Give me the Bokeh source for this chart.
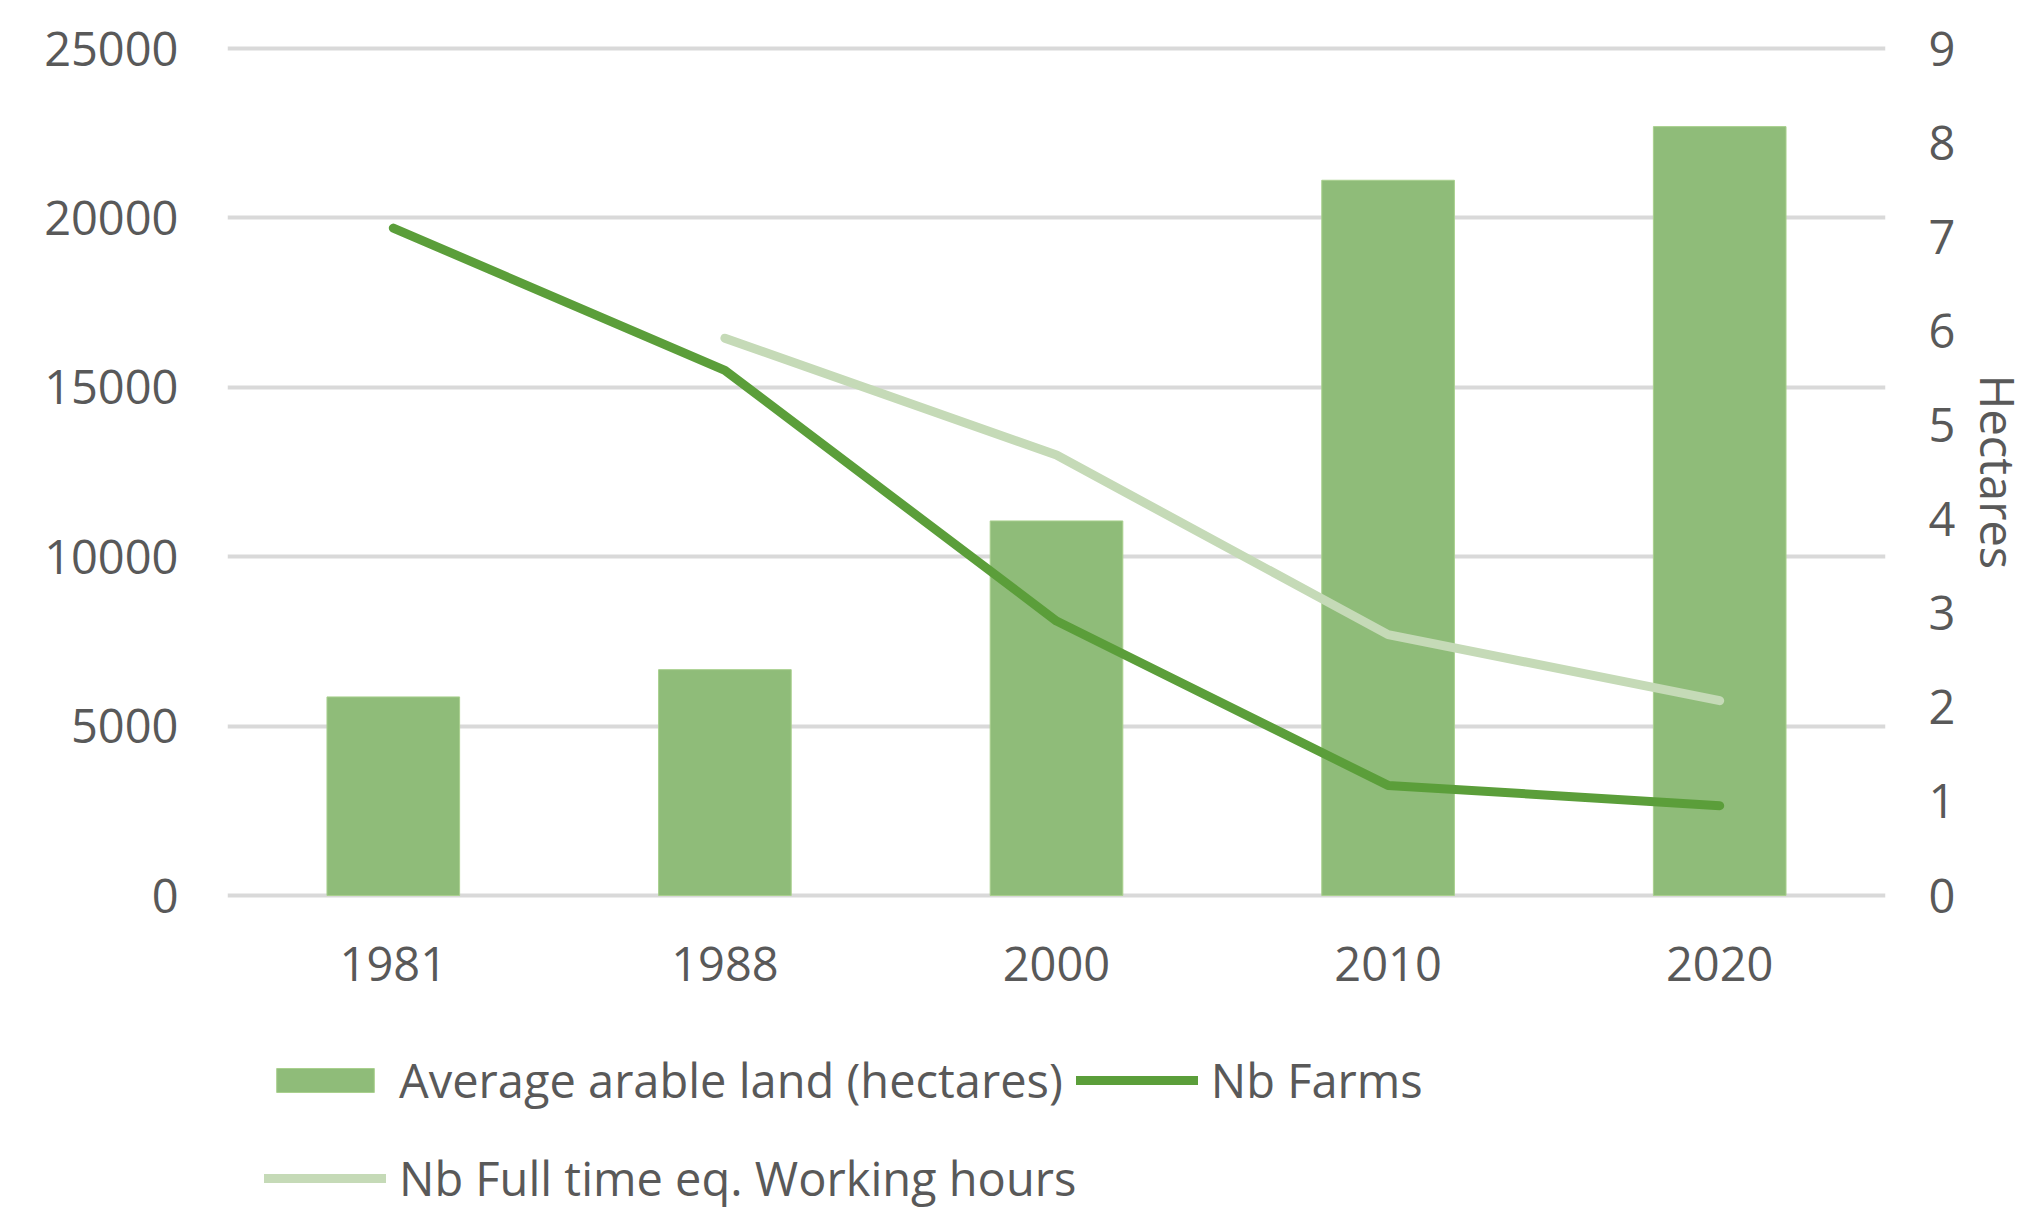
from bokeh.plotting import figure
from bokeh.layouts import column
from bokeh.models import (Range1d, LinearAxis, FactorRange, Legend, LegendItem,
                          FixedTicker, ColumnDataSource)
from bokeh.embed import file_html
from bokeh.resources import INLINE

years = ["1981", "1988", "2000", "2010", "2020"]
arable_land_ha = [2.11, 2.40, 3.98, 7.60, 8.17]
nb_farms = [19700, 15500, 8100, 3250, 2650]
nb_fte = [float("nan"), 16450, 13000, 7700, 5750]
left_ticks = [0, 5000, 10000, 15000, 20000, 25000]
right_ticks = [0, 1, 2, 3, 4, 5, 6, 7, 8, 9]
labels = ["Average arable land (hectares)", "Nb Farms", "Nb Full time eq. Working hours"]

src = ColumnDataSource(dict(year=years, arable=arable_land_ha, farms=nb_farms, fte=nb_fte))

FONT = "Open Sans"
TXT = "#595959"
FS = "47px"
BAR_FILL, BAR_LINE = "#8fbc79", "#a9d08e"
C_FARMS, C_FTE = "#5b9e3a", "#c5dab7"
LW = 9

# small padding so the edge grid lines (0 and 25000) are fully drawn
padL = 25000 / 847 * 3
padR = 9 / 847 * 3
p = figure(x_range=FactorRange(factors=years), y_range=Range1d(-padL, 25000 + padL),
           width=2034, height=1010, output_backend="svg", toolbar_location=None,
           min_border_left=227, min_border_right=149, min_border_top=45,
           min_border_bottom=112)
p.extra_y_ranges = {"ha": Range1d(-padR, 9 + padR)}
p.outline_line_color = None

bars = p.vbar(x="year", top="arable", width=0.4, source=src, y_range_name="ha",
              fill_color=BAR_FILL, line_color=BAR_LINE, line_width=1)
l_farms = p.line(x="year", y="farms", source=src, line_color=C_FARMS, line_width=LW,
                 line_cap="round", line_join="round")
l_fte = p.line(x="year", y="fte", source=src, line_color=C_FTE, line_width=LW,
               line_cap="round", line_join="round")

# axes
p.yaxis.ticker = FixedTicker(ticks=left_ticks)
ra = LinearAxis(y_range_name="ha", ticker=FixedTicker(ticks=right_ticks), axis_label="Hectares")
p.add_layout(ra, "right")
for ax in [p.xaxis[0], p.yaxis[0], ra]:
    ax.axis_line_color = None
    ax.major_tick_line_color = None
    ax.minor_tick_line_color = None
    ax.major_label_text_font = FONT
    ax.major_label_text_font_size = FS
    ax.major_label_text_color = TXT
    ax.axis_label_text_font = FONT
    ax.axis_label_text_font_size = FS
    ax.axis_label_text_color = TXT
    ax.axis_label_text_font_style = "normal"
p.yaxis[0].major_label_standoff = 43
ra.major_label_standoff = 37
ra.axis_label_standoff = 8
p.xaxis[0].major_label_standoff = 42

p.xgrid.grid_line_color = None
p.ygrid.grid_line_color = "#d9d9d9"
p.ygrid.grid_line_width = 4
p.ygrid.ticker = FixedTicker(ticks=left_ticks)

# legend strip below the chart; its ranges lie far above the data so its
# renderers only supply the legend swatches
q = figure(width=2034, height=200, x_range=FactorRange(factors=years),
           y_range=Range1d(60000, 60001), output_backend="svg", toolbar_location=None,
           min_border=0)
q.extra_y_ranges = {"ha": Range1d(30, 31)}
q.axis.visible = False
q.grid.visible = False
q.outline_line_color = None
g_bar = q.vbar(x="year", top="arable", width=0.4, source=src, y_range_name="ha",
               fill_color=BAR_FILL, line_color=BAR_LINE, line_width=1)
g_farms = q.line(x="year", y="farms", source=src, line_color=C_FARMS, line_width=LW,
                 line_cap="round")
g_fte = q.line(x="year", y="fte", source=src, line_color=C_FTE, line_width=LW,
               line_cap="round")


def make_legend(items, loc):
    lg = Legend(items=items, orientation="horizontal", location=loc)
    lg.label_text_font = FONT
    lg.label_text_font_size = FS
    lg.label_text_color = TXT
    lg.glyph_width = 122
    lg.glyph_height = 30
    lg.label_height = 60
    lg.label_standoff = 13
    lg.spacing = 13
    lg.padding = 0
    lg.margin = 0
    lg.border_line_color = None
    lg.background_fill_alpha = 0
    return lg


leg1 = make_legend([LegendItem(label=labels[0], renderers=[g_bar]),
                    LegendItem(label=labels[1], renderers=[g_farms])], (37, 98))
leg2 = make_legend([LegendItem(label=labels[2], renderers=[g_fte])], (37, 0))
q.add_layout(leg1, "center")
q.add_layout(leg2, "center")

open("out.html", "w").write(file_html(column(p, q, spacing=0), INLINE))
